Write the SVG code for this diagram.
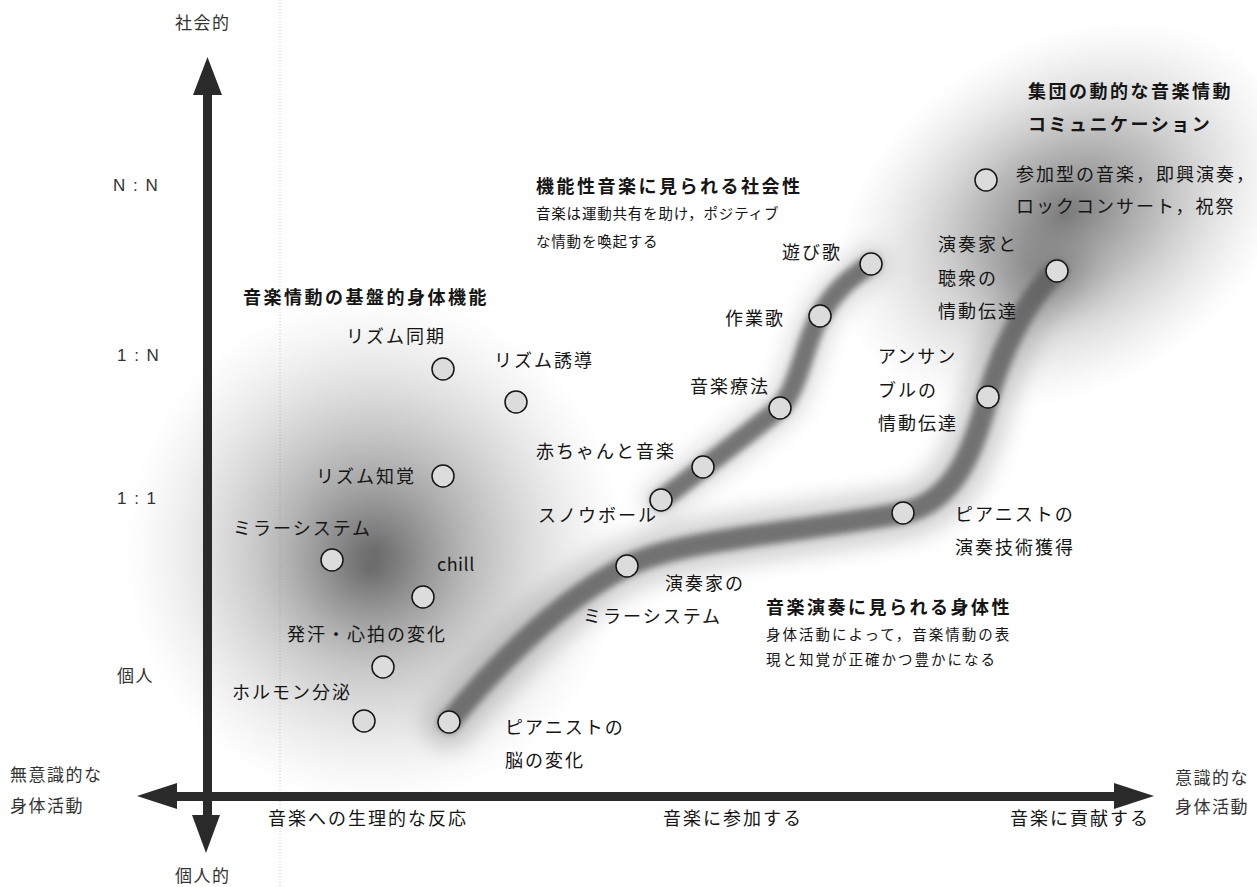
<svg xmlns="http://www.w3.org/2000/svg" width="1257" height="887" viewBox="0 0 1257 887">
<style>
text{font-family:"Noto Sans CJK JP","Noto Sans",sans-serif;fill:#151515}
.lb{font-size:18px;letter-spacing:2px}
.hd{font-size:18px;font-weight:bold;letter-spacing:2.5px}
.sm{font-size:14.5px;letter-spacing:0.8px}
.sm2{font-size:14.5px;letter-spacing:2px}
.ax{font-size:17px;letter-spacing:1.5px;fill:#333}
.nd{fill:#dcdcdc;stroke:#151515;stroke-width:1.5}
.arr{fill:#2a2a2a}
</style>
<defs>
<radialGradient id="gL" cx="0.5" cy="0.5" r="0.5">
<stop offset="0" stop-color="#555" stop-opacity="0.85"/>
<stop offset="0.35" stop-color="#777" stop-opacity="0.55"/>
<stop offset="0.7" stop-color="#999" stop-opacity="0.25"/>
<stop offset="1" stop-color="#bbb" stop-opacity="0"/>
</radialGradient>
<radialGradient id="gR" cx="0.5" cy="0.5" r="0.5">
<stop offset="0" stop-color="#555" stop-opacity="0.8"/>
<stop offset="0.4" stop-color="#777" stop-opacity="0.5"/>
<stop offset="0.75" stop-color="#999" stop-opacity="0.2"/>
<stop offset="1" stop-color="#bbb" stop-opacity="0"/>
</radialGradient>
<filter id="b3" x="-20%" y="-20%" width="140%" height="140%"><feGaussianBlur stdDeviation="3"/></filter>
<filter id="b10" x="-30%" y="-30%" width="160%" height="160%"><feGaussianBlur stdDeviation="10"/></filter>
</defs>

<line x1="280" y1="0" x2="280" y2="887" stroke="#bbb" stroke-width="0.8" stroke-dasharray="1 2"/>

<g id="shading">
<ellipse cx="375" cy="550" rx="250" ry="255" fill="url(#gL)"/>
<ellipse cx="370" cy="570" rx="110" ry="100" fill="url(#gL)" opacity="0.55"/>
<ellipse cx="1065" cy="215" rx="245" ry="175" fill="url(#gR)" transform="rotate(-30 1065 215)"/>
<ellipse cx="1040" cy="270" rx="90" ry="70" fill="url(#gR)" opacity="0.5"/>
</g>

<g id="connectors" fill="none" stroke-linecap="round">
<path d="M449,722 C500,660 560,600 627,566 C680,540 780,535 903,513 C960,500 975,440 988,397 C1005,340 1030,295 1057,271" stroke="#888" stroke-width="55" opacity="0.35" filter="url(#b10)"/>
<path d="M449,722 C500,660 560,600 627,566 C680,540 780,535 903,513 C960,500 975,440 988,397 C1005,340 1030,295 1057,271" stroke="#5a5a5a" stroke-width="22" opacity="0.8" filter="url(#b3)"/>
<path d="M661,500 C690,478 740,440 780,408 C800,385 805,340 820,316 C835,290 850,278 871,264" stroke="#999" stroke-width="40" opacity="0.3" filter="url(#b10)"/>
<path d="M661,500 C690,478 740,440 780,408 C800,385 805,340 820,316 C835,290 850,278 871,264" stroke="#5a5a5a" stroke-width="20" opacity="0.8" filter="url(#b3)"/>
</g>

<g id="axes">
<rect class="arr" x="203" y="90" width="9" height="730"/>
<polygon class="arr" points="207.5,57 222,95 193,95"/>
<polygon class="arr" points="206,853 220,815 192,815"/>
<rect class="arr" x="172" y="792" width="946" height="9"/>
<polygon class="arr" points="137,796 177,783 177,809"/>
<polygon class="arr" points="1154,796 1114,783 1114,809"/>
</g>

<g id="axis-labels">
<text class="ax" x="175" y="29">社会的</text>
<text class="ax" x="175" y="882">個人的</text>
<text class="ax" x="113" y="191" style="font-family:'Liberation Sans',sans-serif">N : N</text>
<text class="ax" x="117" y="361" style="font-family:'Liberation Sans',sans-serif">1 : N</text>
<text class="ax" x="117" y="504" style="font-family:'Liberation Sans',sans-serif">1 : 1</text>
<text class="ax" x="117" y="682">個人</text>
<text class="ax" x="10" y="781">無意識的な</text>
<text class="ax" x="10" y="812">身体活動</text>
<text class="ax" x="1175" y="784">意識的な</text>
<text class="ax" x="1175" y="813">身体活動</text>
<text class="lb" x="268" y="825">音楽への生理的な反応</text>
<text class="lb" x="663" y="825">音楽に参加する</text>
<text class="lb" x="1010" y="825">音楽に貢献する</text>
</g>

<g id="headings">
<text class="hd" x="243" y="304">音楽情動の基盤的身体機能</text>
<text class="hd" x="536" y="193">機能性音楽に見られる社会性</text>
<text class="sm" x="536" y="219">音楽は運動共有を助け，ポジティブ</text>
<text class="sm" x="536" y="247">な情動を喚起する</text>
<text class="hd" x="766" y="614">音楽演奏に見られる身体性</text>
<text class="sm2" x="766" y="640">身体活動によって，音楽情動の表</text>
<text class="sm2" x="766" y="665">現と知覚が正確かつ豊かになる</text>
<text class="hd" x="1028" y="98">集団の動的な音楽情動</text>
<text class="hd" x="1028" y="131">コミュニケーション</text>
</g>

<g id="n-rhythm-sync"><circle class="nd" cx="443" cy="369" r="11"/><text class="lb" x="346" y="343">リズム同期</text></g>
<g id="n-rhythm-induce"><circle class="nd" cx="516" cy="402" r="11"/><text class="lb" x="494" y="367">リズム誘導</text></g>
<g id="n-rhythm-percept"><circle class="nd" cx="443" cy="476" r="11"/><text class="lb" x="316" y="483">リズム知覚</text></g>
<g id="n-mirror"><circle class="nd" cx="332" cy="560" r="11"/><text class="lb" x="233" y="535">ミラーシステム</text></g>
<g id="n-chill"><circle class="nd" cx="423" cy="597" r="11"/><text class="lb" x="437" y="571" style="letter-spacing:0.5px">chill</text></g>
<g id="n-sweat"><circle class="nd" cx="383" cy="667" r="11"/><text class="lb" x="287" y="641">発汗・心拍の変化</text></g>
<g id="n-hormone"><circle class="nd" cx="364" cy="721" r="11"/><text class="lb" x="232" y="699">ホルモン分泌</text></g>
<g id="n-pianist-brain"><circle class="nd" cx="449" cy="722" r="11"/><text class="lb" x="505" y="734">ピアニストの</text><text class="lb" x="505" y="767">脳の変化</text></g>

<g id="n-snowball"><circle class="nd" cx="661" cy="500" r="11"/><text class="lb" x="538" y="522">スノウボール</text></g>
<g id="n-baby"><circle class="nd" cx="703" cy="467" r="11"/><text class="lb" x="536" y="458">赤ちゃんと音楽</text></g>
<g id="n-therapy"><circle class="nd" cx="780" cy="408" r="11"/><text class="lb" x="690" y="393">音楽療法</text></g>
<g id="n-worksong"><circle class="nd" cx="820" cy="316" r="11"/><text class="lb" x="725" y="325">作業歌</text></g>
<g id="n-playsong"><circle class="nd" cx="871" cy="264" r="11"/><text class="lb" x="782" y="259">遊び歌</text></g>

<g id="n-player-mirror"><circle class="nd" cx="627" cy="566" r="11"/><text class="lb" x="665" y="590">演奏家の</text><text class="lb" x="583" y="623">ミラーシステム</text></g>
<g id="n-pianist-skill"><circle class="nd" cx="903" cy="513" r="11"/><text class="lb" x="955" y="521">ピアニストの</text><text class="lb" x="955" y="554">演奏技術獲得</text></g>
<g id="n-ensemble"><circle class="nd" cx="988" cy="397" r="11"/><text class="lb" x="878" y="363">アンサン</text><text class="lb" x="878" y="397">ブルの</text><text class="lb" x="878" y="430">情動伝達</text></g>
<g id="n-audience"><circle class="nd" cx="1057" cy="271" r="11"/><text class="lb" x="938" y="251">演奏家と</text><text class="lb" x="938" y="285">聴衆の</text><text class="lb" x="938" y="318">情動伝達</text></g>
<g id="n-participatory"><circle class="nd" cx="986" cy="180" r="11"/><text class="lb" x="1016" y="181">参加型の音楽，即興演奏，</text><text class="lb" x="1016" y="213">ロックコンサート，祝祭</text></g>
</svg>
